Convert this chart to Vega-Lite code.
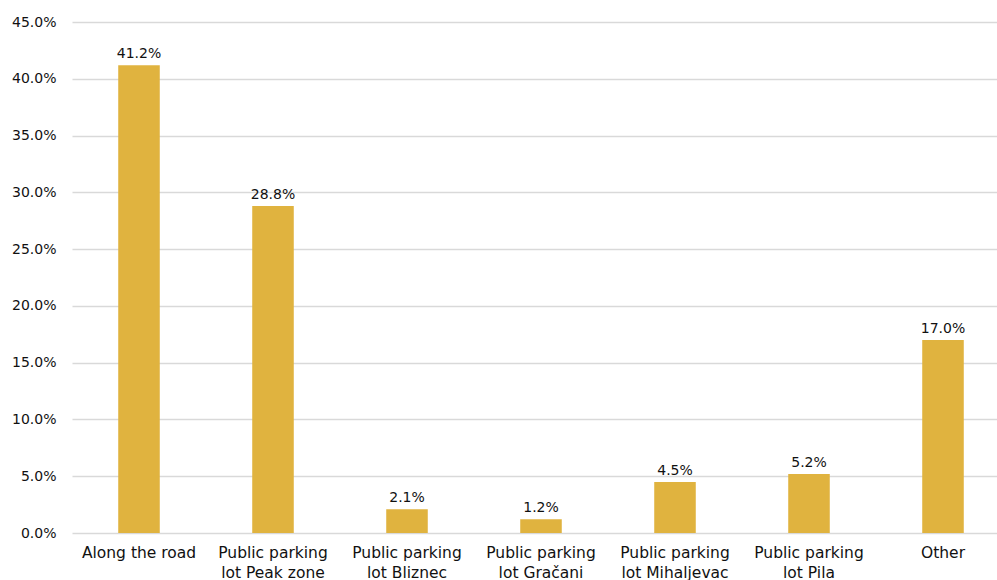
{
  "$schema": "https://vega.github.io/schema/vega-lite/v6.json",
  "autosize": "none",
  "padding": {"left": 72, "top": 22, "right": 0, "bottom": 47},
  "width": 938,
  "height": 511,
  "background": "white",
  "config": {"view": {"stroke": null}, "font": "DejaVu Sans"},
  "data": {"values": [
    {"location": "Along the road", "share": 0.412},
    {"location": "Public parking lot Peak zone", "share": 0.288},
    {"location": "Public parking lot Bliznec", "share": 0.021},
    {"location": "Public parking lot Gračani", "share": 0.012},
    {"location": "Public parking lot Mihaljevac", "share": 0.045},
    {"location": "Public parking lot Pila", "share": 0.052},
    {"location": "Other", "share": 0.17}
  ]},
  "encoding": {
    "x": {"field": "location", "type": "nominal", "sort": null,
      "scale": {"paddingInner": 0.69, "paddingOuter": 0.345},
      "axis": {"title": null, "labelAngle": 0, "ticks": false, "domain": false,
        "labelFontSize": 15.5, "labelColor": "#111", "labelPadding": 12, "labelLineHeight": 20,
        "labelExpr": "datum.value == 'Along the road' || datum.value == 'Other' ? datum.value : ['Public parking', slice(datum.value, 15)]"}},
    "y": {"field": "share", "type": "quantitative",
      "scale": {"domain": [0, 0.45], "nice": false},
      "axis": {"title": null, "format": ".1%", "values": [0, 0.05, 0.1, 0.15, 0.2, 0.25, 0.3, 0.35, 0.4, 0.45],
        "ticks": false, "domain": false, "labelFontSize": 14, "labelColor": "#111", "labelPadding": 16,
        "gridColor": "#d9d9d9", "gridWidth": 1.5}}
  },
  "layer": [
    {"mark": {"type": "bar", "color": "#E0B33F"}},
    {"mark": {"type": "text", "dy": -11, "fontSize": 14, "color": "#111"},
     "encoding": {"text": {"field": "share", "type": "quantitative", "format": ".1%"}}}
  ]
}
